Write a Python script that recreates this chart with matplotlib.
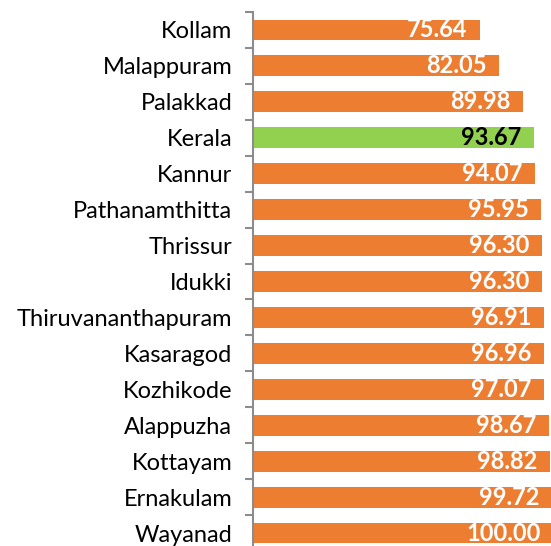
import matplotlib.pyplot as plt
import numpy as np

districts = ["Kollam", "Malappuram", "Palakkad", "Kerala", "Kannur", "Pathanamthitta",
             "Thrissur", "Idukki", "Thiruvananthapuram", "Kasaragod", "Kozhikode",
             "Alappuzha", "Kottayam", "Ernakulam", "Wayanad"]
values = [75.64, 82.05, 89.98, 93.67, 94.07, 95.95, 96.30, 96.30, 96.91,
          96.96, 97.07, 98.67, 98.82, 99.72, 100.00]

plt.rcParams['font.family'] = ['Lato', 'DejaVu Sans']

fig = plt.figure(figsize=(5.51, 5.46), dpi=100)
ax = fig.add_axes([253 / 551, -5 / 546, 298 / 551, 539 / 546])

y = np.arange(len(districts))
colors = ['#92D050' if d == "Kerala" else '#ED7D31' for d in districts]
ax.barh(y, values, height=0.58, color=colors)

for yi, v, d in zip(y, values, districts):
    ax.annotate(f"{v:.2f}", (v, yi), xytext=(-9, 0), textcoords='offset points',
                ha='right', va='center', fontsize=17, fontweight='bold',
                color='black' if d == "Kerala" else 'white', annotation_clip=False)

ax.set_ylim(len(districts) - 0.5, -0.5)
ax.set_xlim(0, 99.3)
ax.set_yticks(y)
ax.set_yticklabels(districts, fontsize=17)
ax.tick_params(axis='y', which='major', length=0, pad=15)
ax.set_yticks(np.arange(-0.5, len(districts), 1), minor=True)
ax.tick_params(axis='y', which='minor', length=6, width=1.5, color='#8C8C8C')
ax.set_xticks([])
for s in ['top', 'right', 'bottom']:
    ax.spines[s].set_visible(False)
ax.spines['left'].set_color('#8C8C8C')
ax.spines['left'].set_linewidth(1.5)

fig.savefig("out.png", dpi=100)
